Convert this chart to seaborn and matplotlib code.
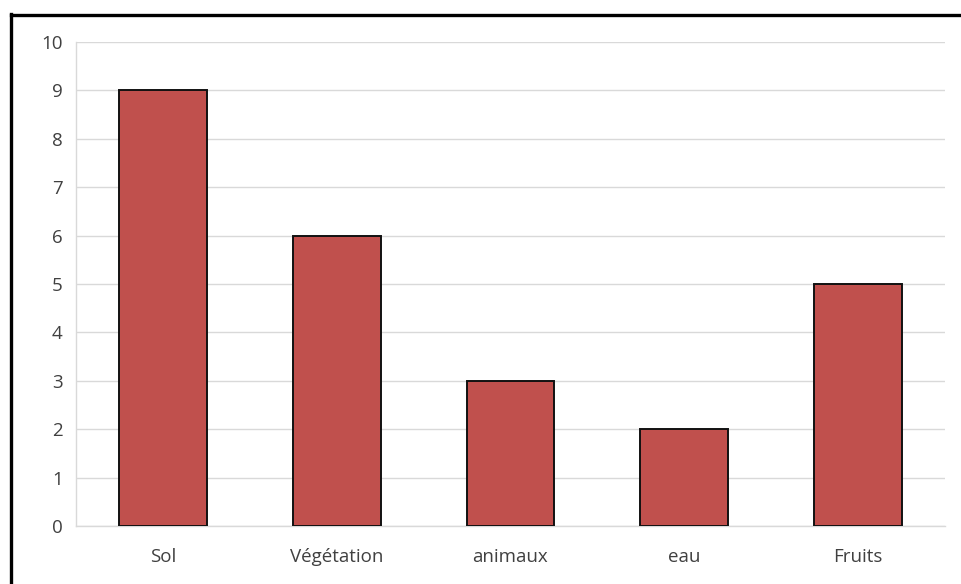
import matplotlib
matplotlib.use("Agg")
import matplotlib.pyplot as plt
from matplotlib.lines import Line2D
import seaborn as sns
import pandas as pd

categories = ["Sol", "Végétation", "animaux", "eau", "Fruits"]
values = [9, 6, 3, 2, 5]
y_ticks = [0, 1, 2, 3, 4, 5, 6, 7, 8, 9, 10]

sns.set_theme(style="white")
plt.rcParams["font.family"] = ["Open Sans", "DejaVu Sans"]

df = pd.DataFrame({"categorie": categories, "valeur": values})

fig = plt.figure(figsize=(9.62, 5.84), dpi=100)
ax = fig.add_axes([76 / 962, 1 - 526 / 584, (945 - 76) / 962, (526 - 42) / 584])

sns.barplot(data=df, x="categorie", y="valeur", color="#C0504D", saturation=1,
            width=0.505, edgecolor="#111111", linewidth=1.4, ax=ax, zorder=3)

ax.set_ylim(0, 10)
ax.set_yticks(y_ticks)
ax.set_xlim(-0.5, len(categories) - 0.5)
ax.yaxis.grid(True, color="#D9D9D9", linewidth=1.0, zorder=0)
ax.set_axisbelow(True)
ax.set_xlabel("")
ax.set_ylabel("")

for side in ["top", "right"]:
    ax.spines[side].set_visible(False)
for side in ["left", "bottom"]:
    ax.spines[side].set_color("#D9D9D9")
    ax.spines[side].set_linewidth(1.0)

ax.tick_params(axis="y", length=0, pad=9.5, labelsize=13.5, labelcolor="#404040")
ax.tick_params(axis="x", length=0, pad=15.5, labelsize=13.5, labelcolor="#404040")

# Frame lines around the chart area (left and top)
fig.add_artist(Line2D([10.5 / 962, 10.5 / 962], [0, 1 - 14 / 584],
                      transform=fig.transFigure, color="black", linewidth=2.4,
                      solid_capstyle="projecting"))
fig.add_artist(Line2D([10.5 / 962, 1], [1 - 15 / 584, 1 - 15 / 584],
                      transform=fig.transFigure, color="black", linewidth=2.4,
                      solid_capstyle="projecting"))

fig.savefig("out.png", dpi=100, facecolor="white")
